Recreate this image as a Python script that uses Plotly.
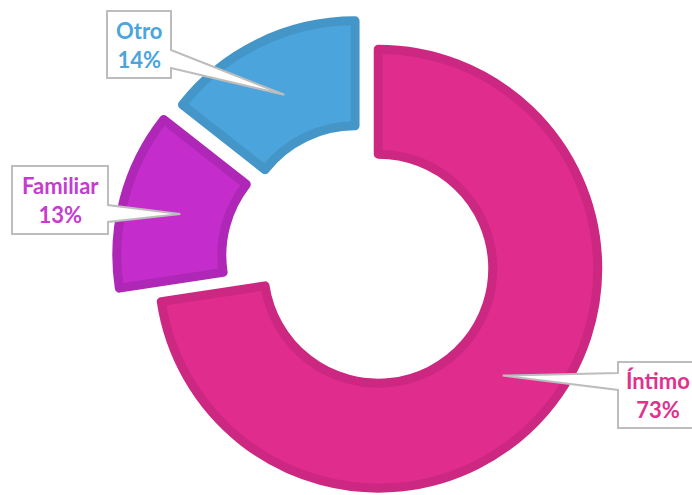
import math
import plotly.graph_objects as go

# ---------------- data ----------------
categories = ["Íntimo", "Familiar", "Otro"]
values = [72.6, 13.0, 14.4]
fill_colors = ["#E02C8D", "#C42DCB", "#4BA4DB"]
border_colors = ["#CC2882", "#AE27B6", "#4596C8"]
text_colors = ["#E0318E", "#C63BD0", "#4AA5DE"]

# ---------------- layout constants (pixels) ----------------
W, H = 692, 495
R_VIS, R_IN_VIS = 224.0, 110.0      # visible outer / inner radius
LINE_W = 9
# centre of each exploded slice
slice_centres = [(376.0, 266.7), (341.8, 256.6), (357.3, 245.0)]
# callout boxes
boxes = [
    dict(x0=618, y0=362, x1=698, y1=428, side="left", b0=373, b1=390),
    dict(x0=12, y0=166, x1=108, y1=234, side="right", b0=205, b1=222),
    dict(x0=107, y0=11, x1=171, y1=78, side="right", b0=50, b1=68),
]


def px(x):
    return x / W


def py(y):
    return 1 - y / H


def direction(deg):
    a = math.radians(deg)
    return math.sin(a), -math.cos(a)


total = sum(values)
d = LINE_W / 2
R_path = R_VIS - d
r_path = R_IN_VIS + d
hole = r_path / R_path

fig = go.Figure()
shapes = []
annotations = []
cum = 0.0
for i, (cat, v) in enumerate(zip(categories, values)):
    a0 = 360 * cum / total
    a1 = a0 + 360 * v / total
    cum += v
    amid = (a0 + a1) / 2
    # compensate the centred stroke on the straight edges (half of it)
    r0, r1 = math.radians(a0), math.radians(a1)
    n0 = (math.cos(r0), math.sin(r0))
    n1 = (-math.cos(r1), -math.sin(r1))
    det = n0[0] * n1[1] - n0[1] * n1[0]
    sx = (d * n1[1] - n0[1] * d) / det
    sy = (n0[0] * d - d * n1[0]) / det
    tcx, tcy = slice_centres[i]
    cx, cy = tcx + 0.5 * sx, tcy + 0.5 * sy

    fig.add_trace(go.Pie(
        values=values,
        labels=categories,
        sort=False,
        direction="clockwise",
        rotation=0,
        hole=hole,
        domain=dict(x=[px(cx - R_path), px(cx + R_path)],
                    y=[py(cy + R_path), py(cy - R_path)]),
        marker=dict(
            colors=[fill_colors[j] if j == i else "rgba(0,0,0,0)" for j in range(len(values))],
            line=dict(color=[border_colors[j] if j == i else "rgba(0,0,0,0)" for j in range(len(values))],
                      width=LINE_W),
        ),
        textinfo="none",
        hoverinfo="label+percent",
        showlegend=False,
    ))

    # callout
    ux, uy = direction(amid)
    rm = (R_VIS + R_IN_VIS) / 2
    tipx, tipy = tcx + rm * ux, tcy + rm * uy
    b = boxes[i]
    if b["side"] == "right":
        pts = [(b["x0"], b["y0"]), (b["x1"], b["y0"]), (b["x1"], b["b0"]), (tipx, tipy),
               (b["x1"], b["b1"]), (b["x1"], b["y1"]), (b["x0"], b["y1"])]
    else:
        pts = [(b["x0"], b["y0"]), (b["x1"], b["y0"]), (b["x1"], b["y1"]), (b["x0"], b["y1"]),
               (b["x0"], b["b1"]), (tipx, tipy), (b["x0"], b["b0"])]
    path = "M " + " L ".join(f"{px(x):.5f},{py(y):.5f}" for x, y in pts) + " Z"
    shapes.append(dict(type="path", xref="paper", yref="paper", path=path,
                       fillcolor="white", line=dict(color="#BDBDBD", width=2), layer="above"))
    pct = 100 * v / total
    annotations.append(dict(
        x=px((b["x0"] + b["x1"]) / 2), y=py((b["y0"] + b["y1"]) / 2),
        xref="paper", yref="paper", xanchor="center", yanchor="middle",
        text=f"<b>{cat}<br>{pct:.0f}%</b>", showarrow=False, align="center",
        font=dict(family="Lato, 'Open Sans', sans-serif", size=22, color=text_colors[i]),
    ))

fig.update_layout(
    width=W, height=H,
    margin=dict(l=0, r=0, t=0, b=0),
    paper_bgcolor="white", plot_bgcolor="white",
    shapes=shapes, annotations=annotations,
    showlegend=False,
)
fig.write_html("out.html",
               config={"displayModeBar": False},
               post_script="document.body.style.margin='0px';document.body.style.overflow='hidden';")
